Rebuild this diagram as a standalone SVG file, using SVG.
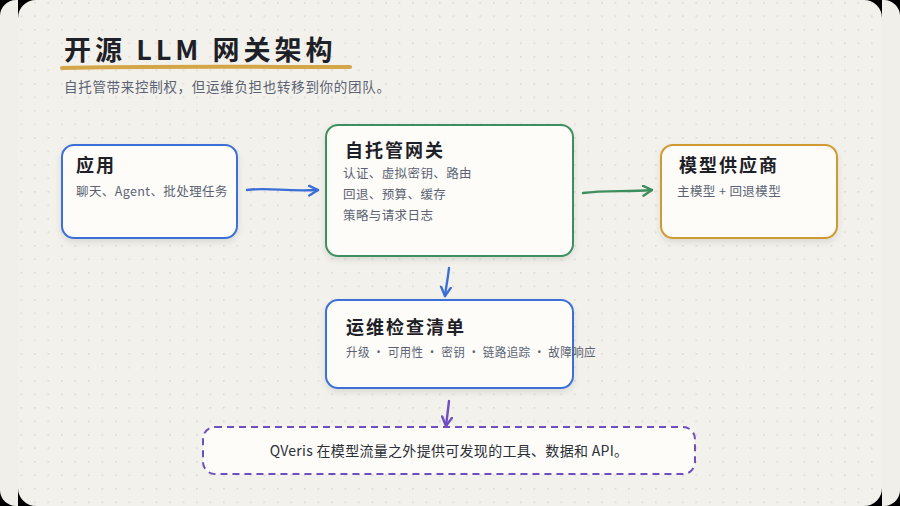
<svg xmlns="http://www.w3.org/2000/svg" width="900" height="506" viewBox="0 0 900 506">
<defs>
<pattern id="dots" x="7" y="2" width="13.5" height="13.5" patternUnits="userSpaceOnUse">
<circle cx="0.8" cy="0.8" r="0.9" fill="#dbd7cf"/>
</pattern>
<filter id="sh" x="-10%" y="-10%" width="120%" height="130%">
<feDropShadow dx="0" dy="3" stdDeviation="3" flood-color="#000" flood-opacity="0.10"/>
</filter>
<marker id="ab" viewBox="0 0 12 12" refX="10" refY="6" markerWidth="12" markerHeight="12" markerUnits="userSpaceOnUse" orient="auto">
<path d="M1,1 L10,6 L1,11" fill="none" stroke="#3a6fd8" stroke-width="2.4" stroke-linecap="round" stroke-linejoin="round"/>
</marker>
<marker id="ag" viewBox="0 0 12 12" refX="10" refY="6" markerWidth="12" markerHeight="12" markerUnits="userSpaceOnUse" orient="auto">
<path d="M1,1 L10,6 L1,11" fill="none" stroke="#3e8f5e" stroke-width="2.4" stroke-linecap="round" stroke-linejoin="round"/>
</marker>
<marker id="ap" viewBox="0 0 12 12" refX="10" refY="6" markerWidth="12" markerHeight="12" markerUnits="userSpaceOnUse" orient="auto">
<path d="M1,1 L10,6 L1,11" fill="none" stroke="#6f4fc0" stroke-width="2.4" stroke-linecap="round" stroke-linejoin="round"/>
</marker>
</defs>
<style>
.node{fill:#fdfcf9;stroke-width:2;filter:url(#sh)}
.t{font-family:"Noto Sans CJK SC","Noto Sans",sans-serif;font-weight:700;font-size:18px;fill:#1d2127;letter-spacing:2px}
.s{font-family:"Noto Sans CJK SC","Noto Sans",sans-serif;font-size:12.5px;fill:#5b6373;letter-spacing:0.4px}
.c{fill:none;stroke-width:2.4;stroke-linecap:round}
</style>
<rect width="900" height="506" fill="#000"/>
<rect x="0" y="0" width="900" height="506" rx="16" fill="#f1efea"/>
<rect x="18" y="0" width="864" height="506" fill="#000"/>
<rect x="18" y="0" width="864" height="506" rx="18" fill="#f3f1ec"/>
<rect x="18" y="0" width="864" height="506" rx="18" fill="url(#dots)"/>

<g id="header">
<text x="64" y="60" font-family="'Noto Sans CJK SC','Noto Sans',sans-serif" font-weight="700" font-size="27" fill="#1d2127" letter-spacing="4">开源 LLM 网关架构</text>
<path d="M62,68 C140,66 260,67 350,67" fill="none" stroke="#d4a64a" stroke-width="4" stroke-linecap="round"/>
<text x="64" y="92" font-family="'Noto Sans CJK SC','Noto Sans',sans-serif" font-size="13.5" fill="#5b6373" letter-spacing="0.7">自托管带来控制权，但运维负担也转移到你的团队。</text>
</g>

<g id="connectors">
<path class="c" stroke="#3a6fd8" d="M247,190 C270,187 285,192 318,190" marker-end="url(#ab)"/>
<path class="c" stroke="#3e8f5e" d="M583,193 C605,190 625,192 652,190" marker-end="url(#ag)"/>
<path class="c" stroke="#3a6fd8" d="M449,268 C448,278 446,287 445,296" marker-end="url(#ab)"/>
<path class="c" stroke="#6f4fc0" d="M449,401 C448,410 447,418 446,426" marker-end="url(#ap)"/>
</g>

<g id="node-app">
<rect class="node" x="62" y="145" width="175" height="93" rx="12" stroke="#3a6fd8"/>
<text class="t" x="76" y="172">应用</text>
<text class="s" x="76" y="196">聊天、Agent、批处理任务</text>
</g>

<g id="node-gateway">
<rect class="node" x="326" y="125" width="247" height="131" rx="12" stroke="#3e8f5e"/>
<text class="t" x="345" y="157">自托管网关</text>
<text class="s" x="343" y="178">认证、虚拟密钥、路由</text>
<text class="s" x="343" y="199">回退、预算、缓存</text>
<text class="s" x="343" y="220">策略与请求日志</text>
</g>

<g id="node-providers">
<rect class="node" x="661" y="145" width="176" height="93" rx="12" stroke="#d09a30"/>
<text class="t" x="679" y="172">模型供应商</text>
<text class="s" x="677" y="196" letter-spacing="1.3">主模型 + 回退模型</text>
</g>

<g id="node-ops">
<rect class="node" x="326" y="300" width="247" height="88" rx="12" stroke="#3a6fd8"/>
<text class="t" x="346" y="334">运维检查清单</text>
<text class="s" x="346" y="357" letter-spacing="0" textLength="250" lengthAdjust="spacingAndGlyphs">升级 • 可用性 • 密钥 • 链路追踪 • 故障响应</text>
</g>

<g id="node-qveris">
<rect x="203" y="427" width="492" height="47" rx="12" fill="#fdfcf9" stroke="#6f4fc0" stroke-width="2" stroke-dasharray="7 5"/>
<text x="449" y="456" text-anchor="middle" font-family="'Noto Sans CJK SC','Noto Sans',sans-serif" font-size="14" fill="#2a2f38" letter-spacing="0.3">QVeris 在模型流量之外提供可发现的工具、数据和 API。</text>
</g>
</svg>
